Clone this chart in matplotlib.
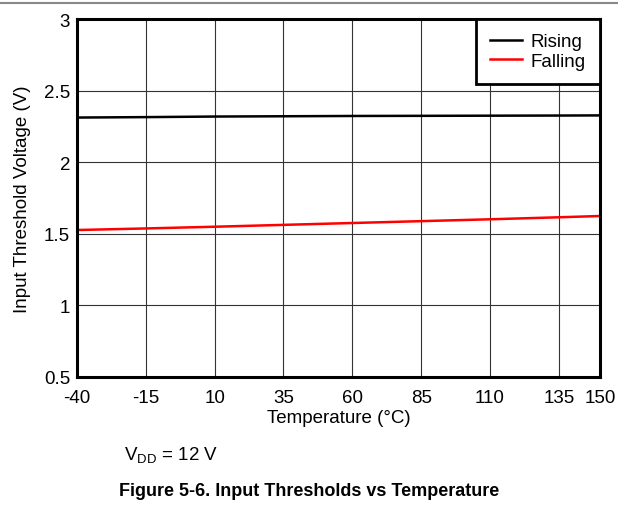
import numpy as np
import matplotlib.pyplot as plt
from matplotlib.lines import Line2D

plt.rcParams['font.family'] = ['Liberation Sans', 'DejaVu Sans']

temp = [-40, -15, 10, 35, 60, 85, 110, 135, 150]
rising = [2.313, 2.316, 2.320, 2.322, 2.324, 2.325, 2.326, 2.327, 2.328]
falling = [1.527, 1.538, 1.550, 1.563, 1.576, 1.589, 1.602, 1.616, 1.625]
xticks = [-40, -15, 10, 35, 60, 85, 110, 135, 150]
yticks = [0.5, 1, 1.5, 2, 2.5, 3]

fig = plt.figure(figsize=(6.18, 5.06), dpi=100)
ax = fig.add_axes([0.1246, 0.253, 0.8464, 0.707])

ax.plot(temp, rising, color='black', lw=1.8, label='Rising')
ax.plot(temp, falling, color='#ff0000', lw=1.8, label='Falling')

ax.set_xlim(-40, 150)
ax.set_ylim(0.5, 3)
ax.set_xticks(xticks)
ax.set_xticklabels([str(t) for t in xticks])
ax.set_yticks(yticks)
ax.set_yticklabels(['0.5', '1', '1.5', '2', '2.5', '3'])
ax.tick_params(length=0, labelsize=13.5)
ax.tick_params(axis='x', pad=9)
ax.tick_params(axis='y', pad=5)
ax.grid(True, color='#333333', lw=0.8)
ax.set_axisbelow(True)
for s in ax.spines.values():
    s.set_linewidth(2.2)
    s.set_color('black')

ax.set_xlabel('Temperature (°C)', fontsize=13.5, labelpad=2)
ax.set_ylabel('Input Threshold Voltage (V)', fontsize=13.5, labelpad=9)

leg = ax.legend(loc='upper right', borderaxespad=0, fontsize=13.5, fancybox=False,
                framealpha=1, edgecolor='black', handlelength=1.75, handletextpad=0.45,
                borderpad=0.75, labelspacing=0.12)
leg.get_frame().set_linewidth(2.0)

fig.add_artist(Line2D([0, 1], [0.992, 0.992], color='#888888', lw=1.5, transform=fig.transFigure))

fig.text(0.2, 0.1, r'V$_{\mathregular{DD}}$ = 12 V', fontsize=13.5, ha='left', va='center')
fig.text(0.5, 0.028, 'Figure 5-6. Input Thresholds vs Temperature', fontsize=13,
         fontweight='bold', ha='center', va='center')

fig.savefig('out.png', dpi=100)
